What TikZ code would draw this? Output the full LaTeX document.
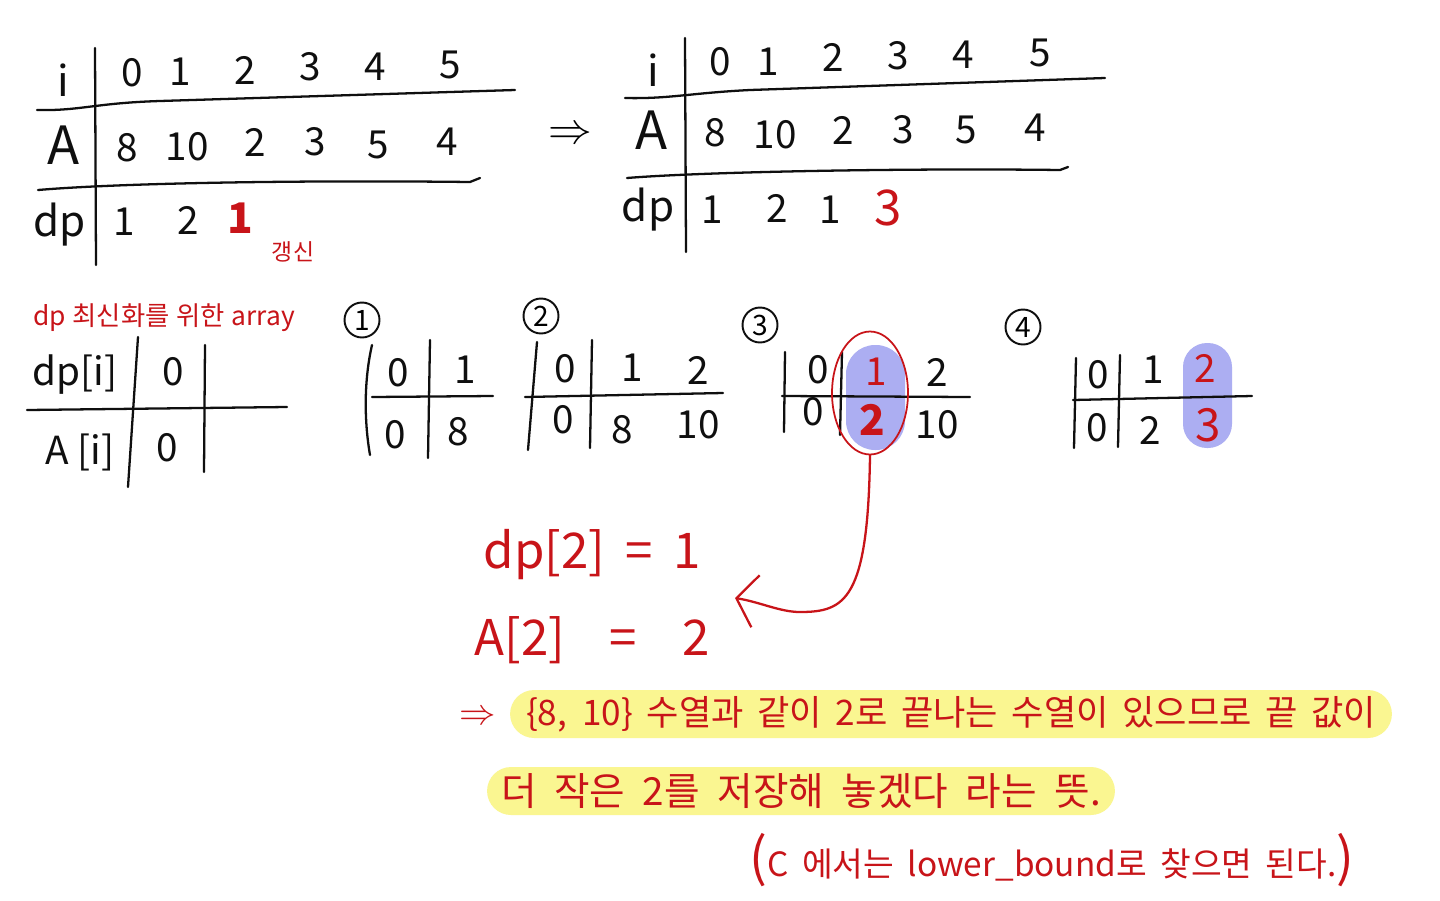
\documentclass[tikz,border=0pt]{standalone}
\usepackage{fontspec}
\setmainfont{Noto Sans CJK KR}
\usepackage{xcolor}
\usepackage{tikz}
\usetikzlibrary{positioning, arrows.meta, shapes.geometric, calc}
\definecolor{penRed}{RGB}{200, 20, 25}
\definecolor{penBlack}{RGB}{15, 15, 15}
\definecolor{hlYellow}{RGB}{250, 246, 145}
\definecolor{hlBlue}{RGB}{172, 174, 242}

\begin{document}
\begin{tikzpicture}[x=0.02cm, y=-0.02cm,
    pen/.style={line width=1.3pt, line cap=round, penBlack},
    num/.style={font=\fontsize{22}{22}\selectfont, inner sep=0pt, text=penBlack},
    rednum/.style={num, text=penRed},
    rowlab/.style={font=\fontsize{24}{24}\selectfont, inner sep=0pt, text=penBlack},
    circnum/.style={draw=penBlack, circle, line width=1.1pt, inner sep=0pt, minimum size=0.7cm, font=\fontsize{16}{16}\selectfont},
    redtext/.style={text=penRed, inner sep=0pt},
    band/.style={fill=hlYellow, rounded corners=0.48cm, minimum height=0.96cm, inner sep=0pt, text=penRed}]
        \useasboundingbox[fill=white] (0,0) rectangle (1440,900);
        % before: i / A / dp
        \draw[pen] (95,48) -- (96,265);
        \draw[pen] (37,110) .. controls (80,111) and (95,103) .. (160,101) -- (515,90);
        \draw[pen] (38,190) .. controls (120,183) and (300,180) .. (470,182) -- (480,178);
        \node[rowlab] (ri) at (63,80) {i};
        \node[rowlab, font=\fontsize{30}{30}\selectfont] (ra) at (64,145) {A};
        \node[rowlab] (rd) at (60,225) {dp};
        \node[num] (i0) at (132,73) {0};
        \node[num] (i1) at (180,72) {1};
        \node[num] (i2) at (245,70) {2};
        \node[num] (i3) at (310,67) {3};
        \node[num] (i4) at (375,67) {4};
        \node[num] (i5) at (450,65) {5};
        \node[num] (a0) at (127,148) {8};
        \node[num] (a1) at (187,147) {10};
        \node[num] (a2) at (255,142) {2};
        \node[num] (a3) at (315,142) {3};
        \node[num] (a4) at (378,145) {5};
        \node[num] (a5) at (447,142) {4};
        \node[num] (d0) at (124,222) {1};
        \node[num] (d1) at (188,220) {2};
        \node[rednum, font=\bfseries\fontsize{24}{24}\selectfont] (d2) at (240,218) {1};
        \node[redtext, font=\fontsize{13}{13}\selectfont] (upd) at (293,252) {갱신};
        \node[inner sep=0pt, font=\fontsize{26}{26}\selectfont] (then) at (570,135) {$\Rightarrow$};
        % after: i / A / dp
        \draw[pen] (685,38) -- (686,252);
        \draw[pen] (625,98) .. controls (670,99) and (690,93) .. (750,90) -- (1105,78);
        \draw[pen] (627,178) .. controls (700,172) and (900,168) .. (1060,170) -- (1068,167);
        \node[rowlab] (qi) at (653,70) {i};
        \node[rowlab, font=\fontsize{30}{30}\selectfont] (qa) at (652,130) {A};
        \node[rowlab] (qd) at (648,210) {dp};
        \node[num] (j0) at (720,62) {0};
        \node[num] (j1) at (768,62) {1};
        \node[num] (j2) at (833,57) {2};
        \node[num] (j3) at (898,56) {3};
        \node[num] (j4) at (963,55) {4};
        \node[num] (j5) at (1040,53) {5};
        \node[num] (b0) at (715,133) {8};
        \node[num] (b1) at (775,135) {10};
        \node[num] (b2) at (843,130) {2};
        \node[num] (b3) at (903,130) {3};
        \node[num] (b4) at (966,130) {5};
        \node[num] (b5) at (1035,128) {4};
        \node[num] (e0) at (712,210) {1};
        \node[num] (e1) at (777,208) {2};
        \node[num] (e2) at (830,210) {1};
        \node[rednum, font=\fontsize{28}{28}\selectfont] (e3) at (888,208) {3};
        % array for updating dp
        \node[redtext, font=\fontsize{15}{15}\selectfont] (arrlab) at (164,318) {\makebox[5.24cm][s]{dp 최신화를 위한 array}};
        \draw[pen] (138,337) -- (128,487);
        \draw[pen] (205,345) -- (204,472);
        \draw[pen] (27,410) -- (287,407);
        \node[num] (ldp) at (75,375) {dp[i]};
        \node[num] (la) at (80,452) {A [i]};
        \node[num] (l0) at (173,372) {0};
        \node[num] (l1) at (167,448) {0};
        % steps 1-4
        \fill[hlBlue, rounded corners=0.58cm] (846,345) rectangle (905,450);
        \fill[hlBlue, rounded corners=0.48cm] (1183,343) rectangle (1232,448);
        \node[circnum] (s1) at (362,320) {1};
        \draw[pen] (372,345) .. controls (364,380) and (364,420) .. (370,455);
        \draw[pen] (430,340) -- (428,458);
        \draw[pen] (372,397) -- (493,396);
        \node[num] (s1a) at (398,373) {0};
        \node[num] (s1b) at (465,370) {1};
        \node[num] (s1c) at (395,435) {0};
        \node[num] (s1d) at (458,432) {8};
        \node[circnum] (s2) at (541,316) {2};
        \draw[pen] (537,342) -- (528,450);
        \draw[pen] (592,340) -- (590,448);
        \draw[pen] (525,397) -- (723,393);
        \node[num] (s2a) at (565,369) {0};
        \node[num] (s2b) at (632,368) {1};
        \node[num] (s2c) at (698,370) {2};
        \node[num] (s2d) at (563,420) {0};
        \node[num] (s2e) at (622,430) {8};
        \node[num] (s2f) at (698,425) {10};
        \node[circnum] (s3) at (760,325) {3};
        \draw[pen] (785,352) -- (784,432);
        \draw[pen] (842,352) -- (840,435);
        \draw[pen] (782,396) -- (970,397);
        \node[num] (s3a) at (818,370) {0};
        \node[rednum] (s3b) at (876,372) {1};
        \node[num] (s3c) at (937,372) {2};
        \node[num] (s3d) at (813,412) {0};
        \node[rednum, font=\bfseries\fontsize{24}{24}\selectfont] (s3e) at (872,420) {2};
        \node[num] (s3f) at (937,425) {10};
        \node[draw=penRed, line width=1pt, ellipse, minimum width=1.52cm, minimum height=2.46cm] (hlring) at (870,393) {};
        \node[circnum] (s4) at (1023,327) {4};
        \draw[pen] (1076,358) -- (1074,448);
        \draw[pen] (1120,355) -- (1118,447);
        \draw[pen] (1073,400) -- (1252,396);
        \node[num] (s4a) at (1098,375) {0};
        \node[num] (s4b) at (1153,370) {1};
        \node[rednum] (s4c) at (1205,368) {2};
        \node[num] (s4d) at (1097,428) {0};
        \node[num] (s4e) at (1150,430) {2};
        \node[rednum, font=\fontsize{26}{26}\selectfont] (s4f) at (1208,425) {3};
        % explanation
        \node[redtext, font=\fontsize{28}{28}\selectfont] (eq1) at (592,555) {\makebox[4.34cm][s]{dp[2] = 1}};
        \node[redtext, font=\fontsize{28}{28}\selectfont] (eq2) at (592,640) {\makebox[4.7cm][s]{A[2] = 2}};
        \coordinate (arrtip) at (735,598);
        \draw[penRed, line width=1.3pt, line cap=round, -{Straight Barb[length=11pt, width=30pt]}]
            (hlring.south) .. controls (868,600) and (845,612) .. (800,612) .. controls (780,612) and (760,602) .. (arrtip);
        \node[redtext, font=\fontsize{20}{20}\selectfont] (so) at (478,718) {$\Rightarrow$};
        \node[band, minimum width=17.64cm, font=\fontsize{20}{20}\selectfont] (line1) at (951,714)
            {\makebox[17cm][s]{\{8, 10\} 수열과 같이 2로 끝나는 수열이 있으므로 끝 값이}};
        \node[band, minimum width=12.56cm, font=\fontsize{22}{22}\selectfont] (line2) at (801,791)
            {\makebox[12cm][s]{더 작은 2를 저장해 놓겠다 라는 뜻.}};
        \node[redtext, font=\fontsize{19}{19}\selectfont] (line3) at (1052,860)
            {\makebox[12.1cm][s]{{\fontsize{30}{30}\selectfont(}C 에서는 lower\_bound로 찾으면 된다.{\fontsize{30}{30}\selectfont)}}};
    \end{tikzpicture}
\end{document}
